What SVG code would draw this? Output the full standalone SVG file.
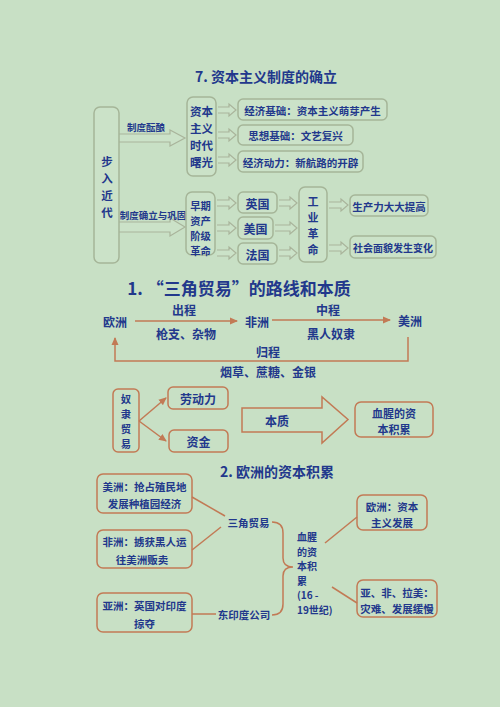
<svg xmlns="http://www.w3.org/2000/svg" width="500" height="707" viewBox="0 0 500 707">
<defs>
<style>
text{font-family:"Noto Sans CJK SC","Noto Sans",sans-serif;font-weight:bold;fill:#22388c;text-anchor:middle;dominant-baseline:central}
.t{font-size:12px}
.v{font-size:11.5px}
.vs{font-size:10.3px}
.s{font-size:10.5px}
.xs{font-size:9.5px}
.gb{fill:#cbe2c8;stroke:#a5b598;stroke-width:1.5}
.bb{fill:none;stroke:#c27a55;stroke-width:1.5}
.ha{fill:#cbe2c8;stroke:#a9b49b;stroke-width:1.2}
.ln{fill:none;stroke:#c27a55;stroke-width:1.5}
</style>
<marker id="ah" markerWidth="8" markerHeight="8" refX="7" refY="4" orient="auto" markerUnits="userSpaceOnUse">
<path d="M0,0.5 L8,4 L0,7.5 Z" fill="#c27a55"/>
</marker>
</defs>
<rect width="500" height="707" fill="#c8e0c5"/>

<!-- Section 7 -->
<text x="266" y="76" style="font-size:14px">7. 资本主义制度的确立</text>

<g id="connectors">
<path class="ha" d="M119,134 H170 V130 L185,138 L170,146 V142 H119"/>
<path class="ha" d="M119,222 H170 V218 L185,227 L170,236 V232 H119"/>
<path class="ha" d="M218,107 H229 V104 L236,110 L229,116 V113 H218"/>
<path class="ha" d="M218,132 H229 V129 L236,135 L229,141 V138 H218"/>
<path class="ha" d="M218,157 H229 V154 L236,160 L229,166 V163 H218"/>
<path class="ha" d="M217,200 H229 V197 L236,203 L229,209 V206 H217"/>
<path class="ha" d="M217,225 H229 V222 L236,228 L229,234 V231 H217"/>
<path class="ha" d="M217,250 H229 V247 L236,253 L229,259 V256 H217"/>
<path class="ha" d="M279,200 H290 V197 L297,203 L290,209 V206 H279"/>
<path class="ha" d="M275,225 H290 V222 L297,228 L290,234 V231 H275"/>
<path class="ha" d="M279,250 H290 V247 L297,253 L290,259 V256 H279"/>
<path class="ha" d="M329,202 H341 V199 L348,205 L341,211 V208 H329"/>
<path class="ha" d="M329,245 H341 V242 L348,248 L341,254 V251 H329"/>
<line class="ln" x1="135" y1="321" x2="237" y2="321" marker-end="url(#ah)"/>
<line class="ln" x1="272" y1="320" x2="390" y2="320" marker-end="url(#ah)"/>
<path class="ln" d="M408,337 V361 H115 V338" marker-end="url(#ah)"/>
<line class="ln" x1="139" y1="421" x2="166" y2="398" marker-end="url(#ah)"/>
<line class="ln" x1="139" y1="421" x2="166" y2="441" marker-end="url(#ah)"/>
<path class="bb" d="M242,408 H322 V397 L348,419.5 L322,443 V432 H242 Z"/>
<line class="ln" x1="192" y1="497" x2="225" y2="516"/>
<line class="ln" x1="192" y1="550" x2="221" y2="527"/>
<line class="ln" x1="192" y1="614" x2="216" y2="614"/>
<path class="ln" d="M272,522 Q283,522 283,533 V558 Q283,567 293,567 Q283,567 283,576 V604 Q283,615 272,615"/>
<line class="ln" x1="325" y1="543" x2="357" y2="517"/>
<line class="ln" x1="332" y1="587" x2="357" y2="603"/>
</g>

<text x="146" y="127" class="xs">制度酝酿</text>
<text x="153" y="215" class="xs">制度确立与巩固</text>

<g id="n-burujindai">
<rect class="gb" x="94" y="107" width="25" height="156" rx="6"/>
<text class="v"><tspan x="107" y="161">步</tspan><tspan x="107" y="178">入</tspan><tspan x="107" y="195">近</tspan><tspan x="107" y="212">代</tspan></text>
</g>
<g id="n-shuguang">
<rect class="gb" x="187" y="97" width="29" height="79" rx="6"/>
<text class="v"><tspan x="201.5" y="111">资本</tspan><tspan x="201.5" y="128">主义</tspan><tspan x="201.5" y="145">时代</tspan><tspan x="201.5" y="162">曙光</tspan></text>
</g>
<g id="n-geming">
<rect class="gb" x="186" y="192" width="29" height="63" rx="6"/>
<text class="vs"><tspan x="200.5" y="204.5">早期</tspan><tspan x="200.5" y="219.5">资产</tspan><tspan x="200.5" y="234.5">阶级</tspan><tspan x="200.5" y="249.5">革命</tspan></text>
</g>
<g id="n-jingji1">
<rect class="gb" x="238" y="99" width="149" height="21" rx="5"/>
<text x="312.5" y="110" class="s">经济基础：资本主义萌芽产生</text>
</g>
<g id="n-sixiang">
<rect class="gb" x="238" y="125" width="115" height="20" rx="5"/>
<text x="295.5" y="135" class="s">思想基础：文艺复兴</text>
</g>
<g id="n-jingji2">
<rect class="gb" x="238" y="151" width="125" height="21" rx="5"/>
<text x="300.5" y="162" class="s">经济动力：新航路的开辟</text>
</g>
<g id="n-yingguo">
<rect class="gb" x="238" y="192" width="39" height="21" rx="5"/>
<text x="257.5" y="203" class="t">英国</text>
</g>
<g id="n-meiguo">
<rect class="gb" x="238" y="217" width="35" height="22" rx="5"/>
<text x="255.5" y="228" class="t">美国</text>
</g>
<g id="n-faguo">
<rect class="gb" x="238" y="243" width="39" height="21" rx="5"/>
<text x="257.5" y="254" class="t">法国</text>
</g>
<g id="n-gongye">
<rect class="gb" x="299" y="187" width="28" height="75" rx="6"/>
<text class="v" style="font-size:11px"><tspan x="313" y="201">工</tspan><tspan x="313" y="217">业</tspan><tspan x="313" y="233">革</tspan><tspan x="313" y="249">命</tspan></text>
</g>
<g id="n-shengchanli">
<rect class="gb" x="350" y="195" width="78" height="21" rx="5"/>
<text x="389" y="206" class="s">生产力大大提高</text>
</g>
<g id="n-shehui">
<rect class="gb" x="350" y="236" width="86" height="22" rx="5"/>
<text x="393" y="247" style="font-size:10px">社会面貌发生变化</text>
</g>

<!-- Section 1 -->
<text x="239" y="287" style="font-size:17px">1. “三角贸易”的路线和本质</text>
<g id="n-ouzhou"><text x="115" y="321" class="t">欧洲</text></g>
<g id="n-feizhou"><text x="257" y="321" class="t">非洲</text></g>
<g id="n-meizhou"><text x="410" y="320" class="t">美洲</text></g>
<text x="184" y="309" class="t">出程</text>
<text x="186" y="333" class="t">枪支、杂物</text>
<text x="328" y="309" class="t">中程</text>
<text x="331" y="333" class="t">黑人奴隶</text>
<text x="268" y="351" class="t">归程</text>
<text x="268" y="371" class="t">烟草、蔗糖、金银</text>

<g id="n-nulimaoyi">
<rect class="bb" x="113" y="389" width="26" height="63" rx="5"/>
<text class="vs"><tspan x="126" y="398">奴</tspan><tspan x="126" y="413">隶</tspan><tspan x="126" y="428">贸</tspan><tspan x="126" y="443">易</tspan></text>
</g>
<g id="n-laodongli">
<rect class="bb" x="168" y="387" width="60" height="22" rx="5"/>
<text x="198" y="398" class="t">劳动力</text>
</g>
<g id="n-zijin">
<rect class="bb" x="169" y="430" width="59" height="22" rx="5"/>
<text x="198.5" y="441" class="t">资金</text>
</g>
<text x="277" y="420" class="t">本质</text>
<g id="n-xuexing">
<rect class="bb" x="355" y="402" width="78" height="35" rx="6"/>
<text style="font-size:11px"><tspan x="394" y="413">血腥的资</tspan><tspan x="394" y="429">本积累</tspan></text>
</g>

<!-- Section 2 -->
<text x="277" y="471" style="font-size:14px">2. 欧洲的资本积累</text>
<g id="n-meizhou2">
<rect class="bb" x="97" y="474" width="95" height="39" rx="6"/>
<text class="s"><tspan x="144.5" y="486">美洲：抢占殖民地</tspan><tspan x="144.5" y="503">发展种植园经济</tspan></text>
</g>
<g id="n-feizhou2">
<rect class="bb" x="97" y="530" width="95" height="38" rx="6"/>
<text class="s"><tspan x="144.5" y="541">非洲：掳获黑人运</tspan><tspan x="142" y="559">往美洲贩卖</tspan></text>
</g>
<g id="n-yazhou2">
<rect class="bb" x="97" y="593" width="95" height="39" rx="6"/>
<text class="s"><tspan x="144.5" y="605">亚洲：英国对印度</tspan><tspan x="144.5" y="623">掠夺</tspan></text>
</g>
<g id="n-sanjiao"><text x="248.5" y="522" class="s">三角贸易</text></g>
<g id="n-dongyindu"><text x="244" y="614" class="s">东印度公司</text></g>
<g id="n-xuexing2">
<text style="font-size:10px;text-anchor:start"><tspan x="297" y="536">血腥</tspan><tspan x="297" y="550.5">的资</tspan><tspan x="297" y="565">本积</tspan><tspan x="297" y="579.5">累</tspan><tspan x="297" y="594">(16 -</tspan><tspan x="297" y="608.5">19世纪)</tspan></text>
</g>
<g id="n-ouzhou2">
<rect class="bb" x="357" y="495" width="70" height="35" rx="6"/>
<text class="s"><tspan x="392" y="506">欧洲：资本</tspan><tspan x="392" y="522">主义发展</tspan></text>
</g>
<g id="n-yafeila">
<rect class="bb" x="357" y="580" width="80" height="37" rx="6"/>
<text class="s"><tspan x="397" y="592">亚、非、拉美：</tspan><tspan x="397" y="608">灾难、发展缓慢</tspan></text>
</g>
</svg>
